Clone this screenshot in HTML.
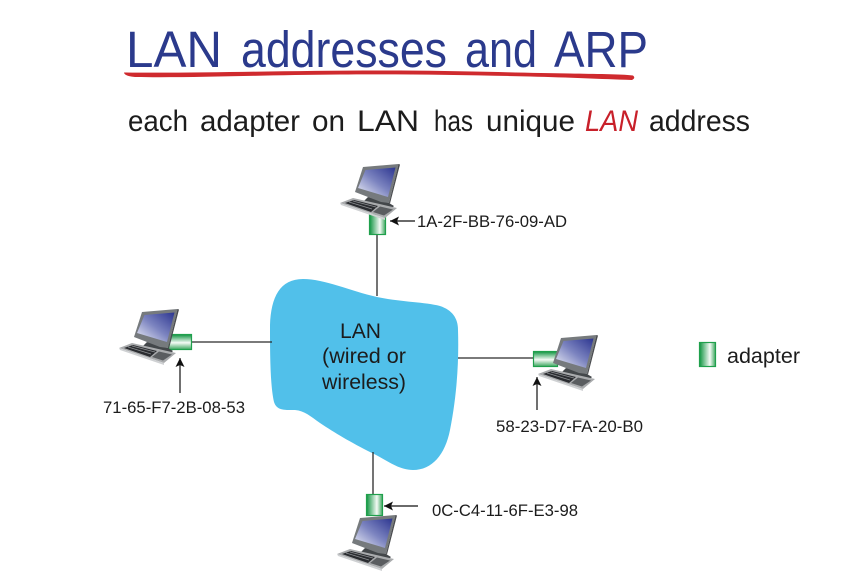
<!DOCTYPE html>
<html>
<head>
<meta charset="utf-8">
<style>
html,body{margin:0;padding:0;background:#fff;width:860px;height:585px;overflow:hidden}
svg{display:block;filter:blur(.35px)}
text{font-family:"Liberation Sans",sans-serif}
</style>
</head>
<body>
<svg width="860" height="585" viewBox="0 0 860 585" xmlns="http://www.w3.org/2000/svg">
<defs>
<linearGradient id="scr" x1="1" y1="0" x2="0" y2="1">
<stop offset="0" stop-color="#2c3590"/><stop offset="0.5" stop-color="#7c84c0"/><stop offset="1" stop-color="#eef0f8"/>
</linearGradient>
<linearGradient id="av" x1="0" y1="0" x2="1" y2="0">
<stop offset="0" stop-color="#0f9440"/><stop offset="0.65" stop-color="#f4faf5"/><stop offset="1" stop-color="#3da75f"/>
</linearGradient>
<linearGradient id="ah" x1="0" y1="0" x2="0" y2="1">
<stop offset="0" stop-color="#0f9440"/><stop offset="0.55" stop-color="#f4faf5"/><stop offset="1" stop-color="#3da75f"/>
</linearGradient>
<g id="pc">
<path d="M368 197 L389 203 L394 206 L390 210 L362 203 Z" fill="#43474a"/>
<path d="M363 167 L398.500 164 L389 203 L381 202 L355 192 Z" fill="#767a7d"/>
<path d="M365.500 170 L395.500 167.500 L388 197 L358 188 Z" fill="url(#scr)"/>
<path d="M398.500 164 L400 164.500 L390 203.500 L389 203 Z" fill="#4a4c4f"/>
<path d="M340 203 L353 198 L397 208 L385 218 Z" fill="#a9abad"/>
<path d="M345 203 L354 200 L378 206 L371 212 Z" fill="#2a2c30"/>
<path d="M373 212 L380 206.500 L393 209.500 L384 215.500 Z" fill="#5a5d60"/>
<path d="M349 202 L372 209 M353 201 L376 207" stroke="#8c8f92" stroke-width=".7"/>
<path d="M340 203 L385 218 L385 220 L341 205 Z" fill="#cfd1d3"/>
</g>
<marker id="ar" markerWidth="10" markerHeight="10" refX="9" refY="4.500" orient="auto" markerUnits="userSpaceOnUse">
<path d="M0 0 L9 4.500 L0 9 L2 4.500 Z" fill="#111"/>
</marker>
</defs>

<!-- heading -->
<g font-size="51" fill="#2b3a8c">
<text x="126" y="67" textLength="96" lengthAdjust="spacingAndGlyphs">LAN</text>
<text x="241" y="67" textLength="206" lengthAdjust="spacingAndGlyphs">addresses</text>
<text x="465" y="67" textLength="72" lengthAdjust="spacingAndGlyphs">and</text>
<text x="554" y="67" textLength="94" lengthAdjust="spacingAndGlyphs">ARP</text>
</g>
<path d="M124 72.500 C200 73.500 300 70 400 70.500 C470 71 530 73 570 73.500 C595 74 620 74 633 75.500 Q636 78 632 80 C600 79 570 77.500 530 76.500 C470 75 400 74 340 74.500 C260 75 190 78 135 77 Q124 76 124 72.500 Z" fill="#cf2a2e"/>
<g font-size="30" fill="#1c1c1c">
<text x="128" y="131" textLength="60" lengthAdjust="spacingAndGlyphs">each</text>
<text x="200" y="131" textLength="100" lengthAdjust="spacingAndGlyphs">adapter</text>
<text x="312" y="131" textLength="33" lengthAdjust="spacingAndGlyphs">on</text>
<text x="357" y="131" textLength="62" lengthAdjust="spacingAndGlyphs">LAN</text>
<text x="434" y="131" textLength="39" lengthAdjust="spacingAndGlyphs">has</text>
<text x="486" y="131" textLength="89" lengthAdjust="spacingAndGlyphs">unique</text>
<text x="585" y="131" font-style="italic" fill="#c8202a" textLength="53" lengthAdjust="spacingAndGlyphs">LAN</text>
<text x="649" y="131" textLength="101" lengthAdjust="spacingAndGlyphs">address</text>
</g>

<!-- LAN cloud -->
<path d="M270 325 C271 297 280 279 303 279 C325 279 350 291 377 297 C400 302 425 302 440 306 C452 310 458 318 458 330 C459 360 457 395 450 430 C445 455 432 470 413 470 C398 470 385 459 372 453 C350 442 335 433 320 423 C310 416 305 411 295 410 C285 410 277 411 274 402 C270 385 270 350 270 325 Z" fill="#51c0ea"/>
<text x="340" y="338" font-size="21" fill="#1c1c1c" textLength="41" lengthAdjust="spacingAndGlyphs">LAN</text>
<text x="322" y="363" font-size="21" fill="#1c1c1c" textLength="84" lengthAdjust="spacingAndGlyphs">(wired or</text>
<text x="322" y="389" font-size="21" fill="#1c1c1c" textLength="84" lengthAdjust="spacingAndGlyphs">wireless)</text>

<!-- links -->
<g stroke="#2a2a2a" stroke-width="1.3" fill="none">
<path d="M377 235 V296"/>
<path d="M192 342 H272"/>
<path d="M458 358 H533"/>
<path d="M373 452 V494"/>
</g>

<!-- adapters -->
<g stroke="#1fa04c" stroke-width="1.2">
<rect x="369.500" y="214.500" width="16" height="20" fill="url(#av)"/>
<rect x="168.500" y="334.500" width="23" height="15" fill="url(#ah)"/>
<rect x="533.500" y="351.500" width="24" height="15" fill="url(#ah)"/>
<rect x="366.500" y="494.500" width="16" height="21" fill="url(#av)"/>
<rect x="699.500" y="342.500" width="16" height="24" fill="url(#av)"/>
</g>

<!-- computers -->
<use href="#pc"/>
<use href="#pc" transform="translate(-221,145)"/>
<use href="#pc" transform="translate(198,171)"/>
<use href="#pc" transform="translate(-3,351)"/>

<!-- arrows -->
<g stroke="#111" stroke-width="1.2" fill="none">
<path d="M415 221 H390" marker-end="url(#ar)"/>
<path d="M180 393 V358" marker-end="url(#ar)"/>
<path d="M537 410 V377" marker-end="url(#ar)"/>
<path d="M418 506 H384" marker-end="url(#ar)"/>
</g>

<!-- labels -->
<g font-size="16.500" fill="#1c1c1c">
<text x="417" y="227" textLength="150" lengthAdjust="spacingAndGlyphs">1A-2F-BB-76-09-AD</text>
<text x="103" y="413" textLength="142" lengthAdjust="spacingAndGlyphs">71-65-F7-2B-08-53</text>
<text x="496" y="432" textLength="147" lengthAdjust="spacingAndGlyphs">58-23-D7-FA-20-B0</text>
<text x="432" y="516" textLength="146" lengthAdjust="spacingAndGlyphs">0C-C4-11-6F-E3-98</text>
</g>
<text x="727" y="363" font-size="21" fill="#1c1c1c" textLength="73" lengthAdjust="spacingAndGlyphs">adapter</text>
</svg>
</body>
</html>
